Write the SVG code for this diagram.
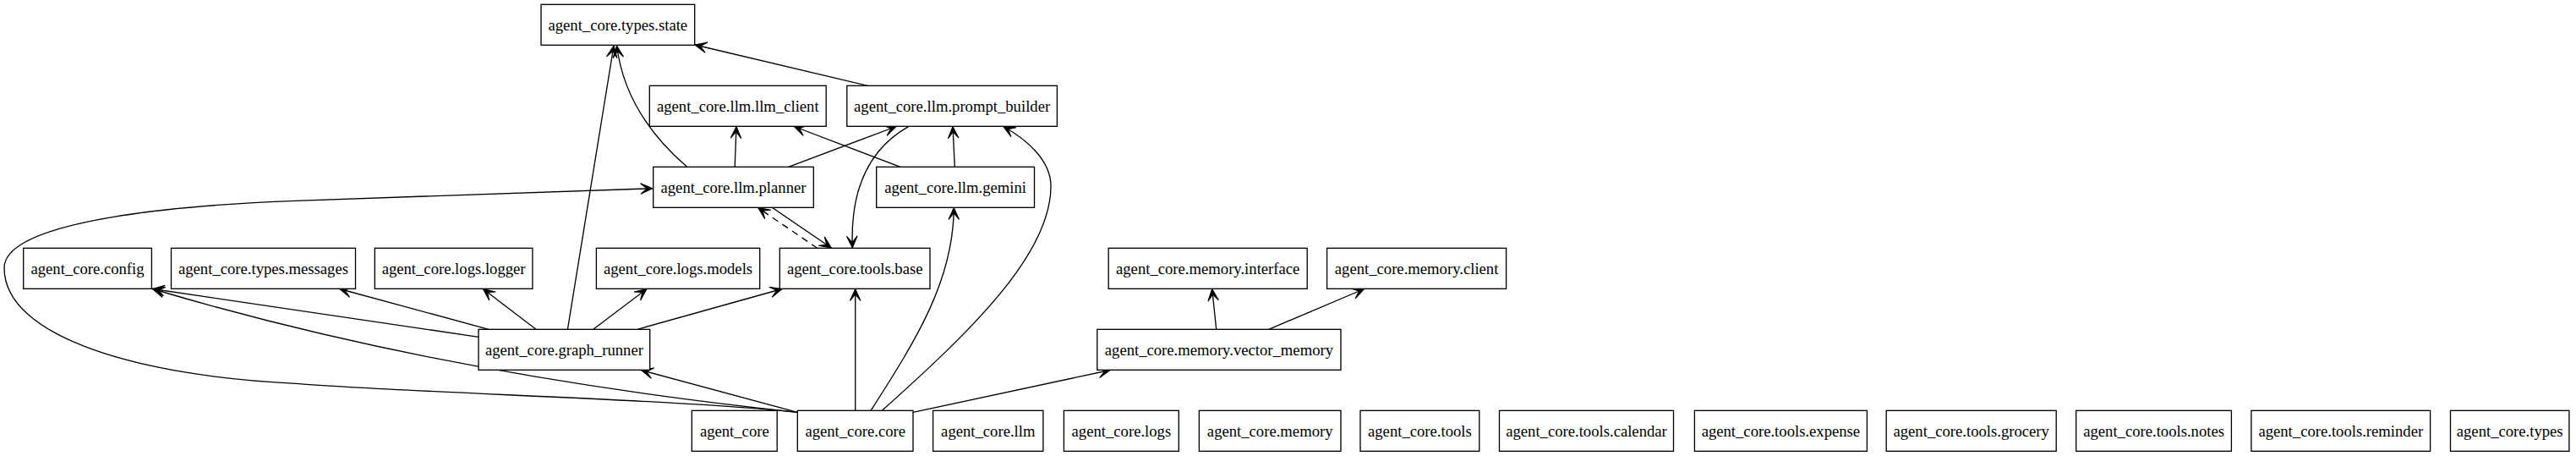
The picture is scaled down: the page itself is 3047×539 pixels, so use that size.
<svg xmlns="http://www.w3.org/2000/svg" width="3047" height="539" viewBox="0 0 3047 539">
<style>
.n rect{fill:#fff;stroke:#000;stroke-width:1.33}
.n text{font-family:"Liberation Serif","Times New Roman",serif;font-size:18.67px;text-anchor:middle;fill:#000}
.e path{fill:none;stroke:#000;stroke-width:1.33;marker-end:url(#vee)}
.e path.d{stroke-dasharray:8,6}
</style>
<defs>
<marker id="vee" markerUnits="userSpaceOnUse" viewBox="-2 -9 18 18" refX="14" refY="0" markerWidth="18" markerHeight="18" orient="auto" overflow="visible">
<path d="M0,-6.3 L14,0 L0,6.3 L7.5,0 Z" fill="#000" stroke="#000" stroke-width="1.1" stroke-linejoin="miter"/>
</marker>
</defs>
<rect width="3047" height="539" fill="#fff"/>
<g class="e" id="edges">
<path d="M1026.3,101.3 L822,53"/>
<path d="M812.7,197.3 C775,165 738,120 729.5,54"/>
<path d="M671.4,389.3 L726,54"/>
<path d="M869.2,197.3 L871,149.5"/>
<path d="M932.6,197.3 L1060,149.5"/>
<path d="M1065,197.3 L939.3,149.5"/>
<path d="M1129.3,197.3 L1127,149.5"/>
<path d="M1075,149.3 C1020,180 1006,235 1008.3,293"/>
<path d="M913.3,245.3 L983.3,293"/>
<path class="d" d="M966.7,293.3 L896.7,245.6"/>
<path d="M943.3,487.3 C800,472 500,465 350,453.3 C170,445 5,400 5,316.7 C5,270 150,245 350,237.3 C500,231 650,226 771.7,222.7"/>
<path d="M943.3,487.3 C760,468 470,428 180.5,341.5"/>
<path d="M566,398.3 L180.5,341.5"/>
<path d="M578.1,389.3 L401.8,341.5"/>
<path d="M634,389.3 L571.4,341.5"/>
<path d="M701.8,389.3 L765,341.5"/>
<path d="M754,389.3 L925,341.5"/>
<path d="M943.3,487.3 L758.5,437.5"/>
<path d="M1011.7,485.3 L1011.7,341.5"/>
<path d="M1030,485.3 C1085,400 1128,330 1128.3,245.5"/>
<path d="M1043.3,485.3 C1150,390 1243,300 1243,220 C1243,190 1215,165 1186.7,149.5"/>
<path d="M1080,487.3 L1313,437.5"/>
<path d="M1438.7,389.3 L1433.7,341.5"/>
<path d="M1500.7,389.3 L1613.6,341.5"/>
</g>
<g class="n" id="agent_core.types.state"><rect x="640" y="5.33" width="181.7" height="48"/><text x="730.8" y="35.5">agent_core.types.state</text></g>
<g class="n" id="agent_core.llm.llm_client"><rect x="768.3" y="101.33" width="208.9" height="48"/><text x="872.8" y="131.5">agent_core.llm.llm_client</text></g>
<g class="n" id="agent_core.llm.prompt_builder"><rect x="1001.8" y="101.33" width="248.6" height="48"/><text x="1126.1" y="131.5">agent_core.llm.prompt_builder</text></g>
<g class="n" id="agent_core.llm.planner"><rect x="772.7" y="197.33" width="189.6" height="48"/><text x="867.5" y="227.5">agent_core.llm.planner</text></g>
<g class="n" id="agent_core.llm.gemini"><rect x="1036.7" y="197.33" width="186.8" height="48"/><text x="1130.1" y="227.5">agent_core.llm.gemini</text></g>
<g class="n" id="agent_core.config"><rect x="27.7" y="293.33" width="151.7" height="48"/><text x="103.5" y="323.5">agent_core.config</text></g>
<g class="n" id="agent_core.types.messages"><rect x="202.5" y="293.33" width="218" height="48"/><text x="311.5" y="323.5">agent_core.types.messages</text></g>
<g class="n" id="agent_core.logs.logger"><rect x="443.3" y="293.33" width="186.6" height="48"/><text x="536.6" y="323.5">agent_core.logs.logger</text></g>
<g class="n" id="agent_core.logs.models"><rect x="705.4" y="293.33" width="193.3" height="48"/><text x="802" y="323.5">agent_core.logs.models</text></g>
<g class="n" id="agent_core.tools.base"><rect x="922.3" y="293.33" width="177.7" height="48"/><text x="1011.2" y="323.5">agent_core.tools.base</text></g>
<g class="n" id="agent_core.memory.interface"><rect x="1311.2" y="293.33" width="235" height="48"/><text x="1428.7" y="323.5">agent_core.memory.interface</text></g>
<g class="n" id="agent_core.memory.client"><rect x="1569.6" y="293.33" width="212" height="48"/><text x="1675.6" y="323.5">agent_core.memory.client</text></g>
<g class="n" id="agent_core.graph_runner"><rect x="566" y="389.33" width="202.7" height="48"/><text x="667.4" y="419.5">agent_core.graph_runner</text></g>
<g class="n" id="agent_core.memory.vector_memory"><rect x="1297.8" y="389.33" width="288.2" height="48"/><text x="1441.9" y="419.5">agent_core.memory.vector_memory</text></g>
<g class="n" id="agent_core"><rect x="818.3" y="485.33" width="100.9" height="48"/><text x="868.8" y="515.5">agent_core</text></g>
<g class="n" id="agent_core.core"><rect x="943.3" y="485.33" width="136.7" height="48"/><text x="1011.7" y="515.5">agent_core.core</text></g>
<g class="n" id="agent_core.llm"><rect x="1103.6" y="485.33" width="130.3" height="48"/><text x="1168.8" y="515.5">agent_core.llm</text></g>
<g class="n" id="agent_core.logs"><rect x="1258.4" y="485.33" width="135.9" height="48"/><text x="1326.4" y="515.5">agent_core.logs</text></g>
<g class="n" id="agent_core.memory"><rect x="1418.4" y="485.33" width="167.6" height="48"/><text x="1502.2" y="515.5">agent_core.memory</text></g>
<g class="n" id="agent_core.tools"><rect x="1609" y="485.33" width="140.8" height="48"/><text x="1679.4" y="515.5">agent_core.tools</text></g>
<g class="n" id="agent_core.tools.calendar"><rect x="1773.5" y="485.33" width="206" height="48"/><text x="1876.5" y="515.5">agent_core.tools.calendar</text></g>
<g class="n" id="agent_core.tools.expense"><rect x="2004.4" y="485.33" width="204" height="48"/><text x="2106.4" y="515.5">agent_core.tools.expense</text></g>
<g class="n" id="agent_core.tools.grocery"><rect x="2231.2" y="485.33" width="201" height="48"/><text x="2331.7" y="515.5">agent_core.tools.grocery</text></g>
<g class="n" id="agent_core.tools.notes"><rect x="2455.7" y="485.33" width="183.7" height="48"/><text x="2547.6" y="515.5">agent_core.tools.notes</text></g>
<g class="n" id="agent_core.tools.reminder"><rect x="2662.9" y="485.33" width="211.7" height="48"/><text x="2768.8" y="515.5">agent_core.tools.reminder</text></g>
<g class="n" id="agent_core.types"><rect x="2898.5" y="485.33" width="140.4" height="48"/><text x="2968.7" y="515.5">agent_core.types</text></g>
</svg>
